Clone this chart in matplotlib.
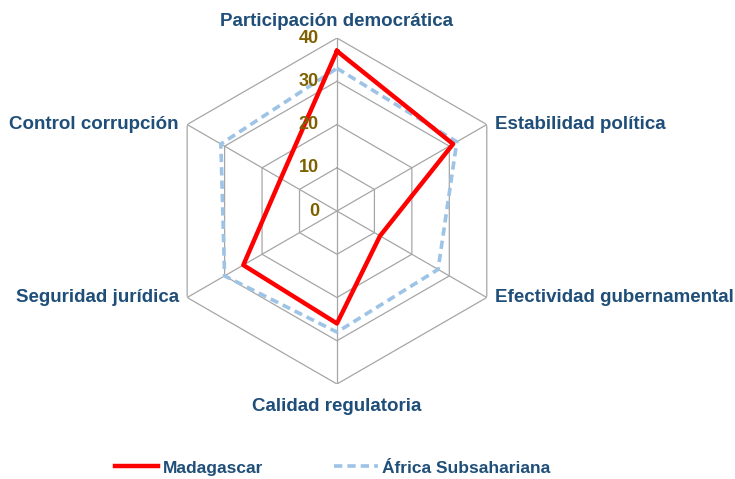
import numpy as np
import matplotlib.pyplot as plt

plt.rcParams['font.family'] = ['Liberation Sans', 'DejaVu Sans']

# Data
categories = ["Participación democrática", "Estabilidad política",
              "Efectividad gubernamental", "Calidad regulatoria",
              "Seguridad jurídica", "Control corrupción"]
madagascar = [37, 31, 11.5, 26, 25, 15]
africa_ss = [33, 32, 27, 28, 30, 31]
r_ticks = [0, 10, 20, 30, 40]

label_color = "#1F4E79"
tick_color = "#7F6000"
grid_color = "#A6A6A6"

n = len(categories)
theta = np.linspace(0, 2 * np.pi, n, endpoint=False)
theta_c = np.append(theta, theta[0])

fig = plt.figure(figsize=(7.35, 4.79), dpi=100)
ax = fig.add_axes([0.2231, 0.1983, 0.4707, 0.7223], projection="polar")
ax.set_theta_offset(np.pi / 2)
ax.set_theta_direction(-1)
ax.set_ylim(0, 40)
ax.grid(False)
ax.spines["polar"].set_visible(False)
ax.set_xticks([])
ax.set_yticks([])

# hexagonal grid and spokes
for r in r_ticks[1:]:
    ax.plot(theta_c, [r] * (n + 1), color=grid_color, lw=0.9, zorder=1)
for t in theta:
    ax.plot([t, t], [0, 40], color=grid_color, lw=0.9, zorder=1)

ax.plot(theta_c, africa_ss + africa_ss[:1], color="#9DC3E6", lw=2.6,
        ls=(0, (2.3, 1.4)), label="África Subsahariana", zorder=2)
ax.plot(theta_c, madagascar + madagascar[:1], color="#FF0000", lw=3.2,
        label="Madagascar", zorder=3)

# radial tick labels
for r in r_ticks:
    ax.annotate(str(r), xy=(0, r), xytext=(-13, 0), textcoords="offset points",
                ha="right", va="center", fontsize=13, fontweight="bold",
                color=tick_color, annotation_clip=False, zorder=5)

# category labels
aligns = [("center", "bottom"), ("left", "center"), ("left", "center"),
          ("center", "top"), ("right", "center"), ("right", "center")]
offsets = [(0, 6), (6, 0), (6, 0), (0, -10), (-6, 0), (-6, 0)]
for t, lab, (ha, va), off in zip(theta, categories, aligns, offsets):
    ax.annotate(lab, xy=(t, 40), xytext=off, textcoords="offset points",
                ha=ha, va=va, fontsize=13.5, fontweight="bold",
                color=label_color, annotation_clip=False)

handles, labels = ax.get_legend_handles_labels()
fig.legend(handles[::-1], labels[::-1], loc="center", bbox_to_anchor=(0.4524, 0.023),
           ncol=2, frameon=False, handlelength=2.5, handletextpad=0.25,
           columnspacing=4.1,
           prop={"size": 12.5, "weight": "bold"}, labelcolor=label_color)

fig.savefig("out.png", dpi=100)
